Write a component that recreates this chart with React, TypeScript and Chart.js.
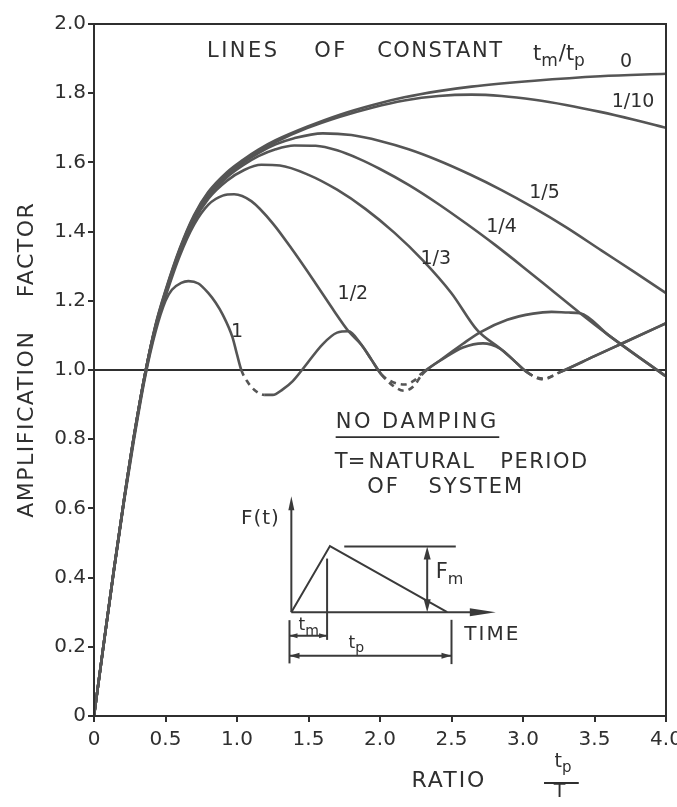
import { useEffect, useRef } from 'react';
import { Chart, registerables } from 'chart.js';

Chart.register(...registerables);

type Pt = [number, number];

// Amplification factor against ratio t_p/T, one curve per rise-time ratio t_m/t_p
const CURVE_0: Pt[] = [
  [0, 0], [0.07, 0.215], [0.14, 0.425], [0.21, 0.625], [0.28, 0.81], [0.36, 0.995], [0.43, 1.13],
  [0.5, 1.23], [0.6, 1.352], [0.7, 1.448], [0.8, 1.515], [0.93, 1.572], [1.04, 1.607],
  [1.15, 1.637], [1.27, 1.664], [1.49, 1.703], [1.72, 1.738], [1.95, 1.766], [2.17, 1.788],
  [2.41, 1.806], [2.64, 1.819], [3.08, 1.836], [3.54, 1.849], [4.0, 1.856],
];

const CURVE_1_10: Pt[] = [
  [0, 0], [0.07, 0.215], [0.14, 0.425], [0.21, 0.625], [0.28, 0.81], [0.36, 0.995], [0.43, 1.128],
  [0.5, 1.227], [0.6, 1.349], [0.7, 1.445], [0.8, 1.512], [0.93, 1.568], [1.04, 1.603],
  [1.15, 1.633], [1.27, 1.659], [1.49, 1.699], [1.72, 1.732], [1.95, 1.759], [2.17, 1.779],
  [2.41, 1.792], [2.64, 1.796], [2.85, 1.792], [3.08, 1.781], [3.3, 1.766], [3.54, 1.746],
  [3.77, 1.724], [4.0, 1.7],
];

const CURVE_1_5: Pt[] = [
  [0, 0], [0.07, 0.215], [0.14, 0.425], [0.21, 0.625], [0.28, 0.81], [0.36, 0.995], [0.43, 1.126],
  [0.5, 1.224], [0.6, 1.346], [0.7, 1.441], [0.8, 1.507], [0.93, 1.563], [1.04, 1.598],
  [1.15, 1.627], [1.27, 1.652], [1.4, 1.67], [1.6, 1.684], [1.8, 1.679], [2.0, 1.662],
  [2.2, 1.638], [2.4, 1.607], [2.63, 1.565], [2.85, 1.52], [3.07, 1.47], [3.3, 1.413],
  [3.55, 1.345], [3.78, 1.283], [4.0, 1.222],
];

const CURVE_1_4: Pt[] = [
  [0, 0], [0.07, 0.215], [0.14, 0.425], [0.21, 0.625], [0.28, 0.81], [0.36, 0.995], [0.43, 1.124],
  [0.5, 1.221], [0.6, 1.342], [0.7, 1.436], [0.8, 1.502], [0.93, 1.557], [1.04, 1.591],
  [1.15, 1.618], [1.27, 1.638], [1.4, 1.649], [1.55, 1.648], [1.7, 1.635], [1.85, 1.611],
  [2.0, 1.581], [2.2, 1.535], [2.4, 1.482], [2.6, 1.424], [2.8, 1.363], [3.0, 1.298],
  [3.2, 1.231], [3.4, 1.164], [3.6, 1.1], [3.8, 1.04], [4.0, 0.982],
];

const CURVE_1_3: Pt[] = [
  [0, 0], [0.07, 0.215], [0.14, 0.425], [0.21, 0.625], [0.28, 0.81], [0.36, 0.995], [0.43, 1.122],
  [0.5, 1.218], [0.6, 1.337], [0.7, 1.43], [0.8, 1.495], [0.93, 1.547], [1.05, 1.578],
  [1.17, 1.593], [1.3, 1.591], [1.5, 1.564], [1.7, 1.521], [1.9, 1.465], [2.1, 1.397],
  [2.3, 1.317], [2.5, 1.222], [2.68, 1.115], [2.84, 1.062], [2.93, 1.03], [3.03, 0.993],
  [3.14, 0.973], [3.26, 0.994], [3.5, 1.04], [3.7, 1.078], [4.0, 1.135],
];

const CURVE_1_2: Pt[] = [
  [0, 0], [0.07, 0.215], [0.14, 0.425], [0.21, 0.623], [0.28, 0.806], [0.36, 0.99], [0.43, 1.118],
  [0.5, 1.212], [0.6, 1.33], [0.7, 1.42], [0.8, 1.478], [0.9, 1.504], [0.98, 1.508],
  [1.1, 1.488], [1.25, 1.424], [1.4, 1.34], [1.55, 1.25], [1.68, 1.17], [1.78, 1.112],
  [1.87, 1.073], [1.94, 1.03], [2.01, 0.987], [2.09, 0.955], [2.17, 0.94], [2.24, 0.955],
  [2.29, 0.985], [2.44, 1.034], [2.58, 1.076], [2.7, 1.109], [2.89, 1.145], [3.07, 1.163],
  [3.2, 1.168], [3.32, 1.166], [3.4, 1.164], [3.6, 1.1], [3.8, 1.04], [4.0, 0.982],
];

const CURVE_1: Pt[] = [
  [0, 0], [0.07, 0.213], [0.14, 0.422], [0.21, 0.62], [0.28, 0.8], [0.36, 0.985], [0.43, 1.11],
  [0.5, 1.2], [0.545, 1.232], [0.61, 1.252], [0.66, 1.257], [0.73, 1.25], [0.8, 1.222],
  [0.85, 1.195], [0.9, 1.16], [0.968, 1.095], [1.0, 1.045], [1.03, 1.0], [1.07, 0.968],
  [1.12, 0.943], [1.19, 0.928], [1.25, 0.928], [1.32, 0.944], [1.39, 0.968], [1.46, 1.003],
  [1.6, 1.075], [1.7, 1.108], [1.78, 1.112], [1.87, 1.073], [1.94, 1.03], [2.01, 0.987],
  [2.09, 0.965], [2.17, 0.958], [2.24, 0.97], [2.29, 0.99], [2.44, 1.032], [2.58, 1.065],
  [2.72, 1.077], [2.84, 1.062], [2.93, 1.03], [3.03, 0.993], [3.14, 0.975], [3.26, 0.994],
  [3.5, 1.04], [3.7, 1.078], [4.0, 1.135],
];

// t_p/T spans where a curve dips below 1.0 and is drawn broken
const DASHED_1: Pt[] = [[1.03, 1.19], [2.01, 2.29], [3.03, 3.26]];
const DASHED_1_2: Pt[] = [[2.01, 2.29]];
const DASHED_1_3: Pt[] = [[3.03, 3.26]];

const X_TICKS = [0, 0.5, 1.0, 1.5, 2.0, 2.5, 3.0, 3.5, 4.0];
const X_LABELS = ['0', '0.5', '1.0', '1.5', '2.0', '2.5', '3.0', '3.5', '4.0'];
const Y_TICKS = [0, 0.2, 0.4, 0.6, 0.8, 1.0, 1.2, 1.4, 1.6, 1.8, 2.0];
const Y_LABELS = ['0', '0.2', '0.4', '0.6', '0.8', '1.0', '1.2', '1.4', '1.6', '1.8', '2.0'];

const SERIES = [
  { ratio: '0', points: CURVE_0, dashed: [] as Pt[] },
  { ratio: '1/10', points: CURVE_1_10, dashed: [] as Pt[] },
  { ratio: '1/5', points: CURVE_1_5, dashed: [] as Pt[] },
  { ratio: '1/4', points: CURVE_1_4, dashed: [] as Pt[] },
  { ratio: '1/3', points: CURVE_1_3, dashed: DASHED_1_3 },
  { ratio: '1/2', points: CURVE_1_2, dashed: DASHED_1_2 },
  { ratio: '1', points: CURVE_1, dashed: DASHED_1 },
];

// curve tags placed in data units (t_p/T, amplification)
const CURVE_TAGS = [
  { text: '0', x: 3.72, y: 1.89 },
  { text: '1/10', x: 3.77, y: 1.775 },
  { text: '1/5', x: 3.15, y: 1.51 },
  { text: '1/4', x: 2.85, y: 1.414 },
  { text: '1/3', x: 2.39, y: 1.32 },
  { text: '1/2', x: 1.81, y: 1.22 },
  { text: '1', x: 1.0, y: 1.11 },
];

const INK = '#2f2f2f';
const CURVE_INK = '#555555';
const FONT = '"DejaVu Sans", sans-serif';

type Part = { t: string; sub?: boolean };

function richText(ctx: CanvasRenderingContext2D, parts: Part[], x: number, baseline: number, size: number, subSize: number) {
  let cx = x;
  ctx.textAlign = 'left';
  ctx.textBaseline = 'alphabetic';
  for (const p of parts) {
    const s = p.sub ? subSize : size;
    ctx.font = `${s}px ${FONT}`;
    const yy = p.sub ? baseline + size * 0.28 : baseline;
    ctx.fillText(p.t, cx, yy);
    cx += ctx.measureText(p.t).width + (p.sub ? 1 : 0);
  }
  return cx;
}

function arrowHead(ctx: CanvasRenderingContext2D, tx: number, ty: number, dx: number, dy: number, len: number, half: number) {
  const l = Math.hypot(dx, dy);
  const ux = dx / l;
  const uy = dy / l;
  const bx = tx - ux * len;
  const by = ty - uy * len;
  ctx.beginPath();
  ctx.moveTo(tx, ty);
  ctx.lineTo(bx - uy * half, by + ux * half);
  ctx.lineTo(bx + uy * half, by - ux * half);
  ctx.closePath();
  ctx.fill();
}

function line(ctx: CanvasRenderingContext2D, x1: number, y1: number, x2: number, y2: number) {
  ctx.beginPath();
  ctx.moveTo(x1, y1);
  ctx.lineTo(x2, y2);
  ctx.stroke();
}

const paperPlugin = {
  id: 'paper',
  beforeDatasetsDraw(chart: any) {
    const { ctx, chartArea: ca, scales } = chart;
    const y1 = scales.y.getPixelForValue(1.0);
    ctx.save();
    ctx.strokeStyle = INK;
    ctx.lineWidth = 2;
    line(ctx, ca.left, y1, ca.right, y1);
    ctx.restore();
  },
  afterDraw(chart: any) {
    const { ctx, chartArea: ca, scales } = chart;
    const X = (v: number) => scales.x.getPixelForValue(v);
    const Y = (v: number) => scales.y.getPixelForValue(v);
    ctx.save();

    // box round the plotting area
    ctx.strokeStyle = INK;
    ctx.lineWidth = 2;
    ctx.strokeRect(ca.left, ca.top, ca.right - ca.left, ca.bottom - ca.top);

    ctx.fillStyle = INK;

    // heading
    ctx.textBaseline = 'middle';
    ctx.textAlign = 'left';
    ctx.font = `21px ${FONT}`;
    (ctx as any).letterSpacing = '2.5px';
    ctx.fillText('LINES', X(0.79), Y(1.92));
    ctx.fillText('OF', X(1.54), Y(1.92));
    (ctx as any).letterSpacing = '1.5px';
    ctx.fillText('CONSTANT', X(1.98), Y(1.92));
    (ctx as any).letterSpacing = '0px';
    richText(ctx, [{ t: 't' }, { t: 'm', sub: true }, { t: '/' }, { t: 't' }, { t: 'p', sub: true }],
      X(3.07), Y(1.92) + 8, 21, 17);

    // curve tags
    ctx.font = `19px ${FONT}`;
    ctx.textAlign = 'center';
    ctx.textBaseline = 'middle';
    for (const tag of CURVE_TAGS) ctx.fillText(tag.text, X(tag.x), Y(tag.y));

    // notes
    ctx.textAlign = 'left';
    ctx.font = `21px ${FONT}`;
    (ctx as any).letterSpacing = '2.5px';
    ctx.fillText('NO DAMPING', X(1.69), Y(0.847));
    (ctx as any).letterSpacing = '0px';
    ctx.lineWidth = 1.8;
    line(ctx, X(1.69), Y(0.806), X(2.834), Y(0.806));
    ctx.fillText('T=', X(1.684), Y(0.733));
    (ctx as any).letterSpacing = '1.5px';
    ctx.fillText('NATURAL', X(1.919), Y(0.733));
    ctx.fillText('PERIOD', X(2.841), Y(0.733));
    (ctx as any).letterSpacing = '2px';
    ctx.fillText('OF', X(1.91), Y(0.661));
    ctx.fillText('SYSTEM', X(2.339), Y(0.661));
    (ctx as any).letterSpacing = '0px';

    // load pulse sketch
    ctx.strokeStyle = '#3a3a3a';
    ctx.fillStyle = '#3a3a3a';
    ctx.lineWidth = 2;
    const ox = X(1.38);
    const base = Y(0.30);
    line(ctx, ox, base, ox, Y(0.61));
    arrowHead(ctx, ox, Y(0.635), 0, -1, 14, 3);
    line(ctx, ox, base, X(2.7), base);
    arrowHead(ctx, X(2.81), base, 1, 0, 26, 4);
    ctx.beginPath();
    ctx.moveTo(ox, base);
    ctx.lineTo(X(1.65), Y(0.491));
    ctx.lineTo(X(2.47), base);
    ctx.stroke();
    line(ctx, X(1.63), Y(0.455), X(1.63), Y(0.22));
    line(ctx, X(1.75), Y(0.49), X(2.53), Y(0.49));
    // F_m dimension
    line(ctx, X(2.33), Y(0.46), X(2.33), Y(0.33));
    arrowHead(ctx, X(2.33), Y(0.49), 0, -1, 13, 3.5);
    arrowHead(ctx, X(2.33), base, 0, 1, 13, 3.5);
    // t_m and t_p dimensions
    line(ctx, X(1.367), Y(0.277), X(1.367), Y(0.152));
    line(ctx, X(2.5), Y(0.278), X(2.5), Y(0.15));
    line(ctx, X(1.367), Y(0.232), X(1.63), Y(0.232));
    arrowHead(ctx, X(1.63), Y(0.232), 1, 0, 8, 2.5);
    arrowHead(ctx, X(1.367), Y(0.232), -1, 0, 8, 2.5);
    line(ctx, X(1.367), Y(0.174), X(2.5), Y(0.174));
    arrowHead(ctx, X(2.5), Y(0.174), 1, 0, 10, 3);
    arrowHead(ctx, X(1.367), Y(0.174), -1, 0, 10, 3);

    ctx.fillStyle = INK;
    ctx.textBaseline = 'middle';
    ctx.textAlign = 'right';
    ctx.font = `20px ${FONT}`;
    (ctx as any).letterSpacing = '1px';
    ctx.fillText('F(t)', X(1.3), Y(0.571));
    ctx.textAlign = 'left';
    (ctx as any).letterSpacing = '2px';
    ctx.fillText('TIME', X(2.59), Y(0.236));
    (ctx as any).letterSpacing = '0px';
    richText(ctx, [{ t: 'F' }, { t: 'm', sub: true }], X(2.39), Y(0.42) + 7, 21, 16);
    richText(ctx, [{ t: 't' }, { t: 'm', sub: true }], X(1.43), Y(0.262) + 5, 17, 14);
    richText(ctx, [{ t: 't' }, { t: 'p', sub: true }], X(1.78), Y(0.212) + 5, 17, 14);

    // axis titles
    ctx.font = `22px ${FONT}`;
    ctx.textAlign = 'left';
    ctx.textBaseline = 'middle';
    (ctx as any).letterSpacing = '1.5px';
    ctx.save();
    ctx.translate(27, Y(0.573));
    ctx.rotate(-Math.PI / 2);
    ctx.fillText('AMPLIFICATION', 0, 0);
    ctx.restore();
    ctx.save();
    ctx.translate(27, Y(1.21));
    ctx.rotate(-Math.PI / 2);
    ctx.fillText('FACTOR', 0, 0);
    ctx.restore();

    (ctx as any).letterSpacing = '2px';
    ctx.fillText('RATIO', X(2.22), 781);
    (ctx as any).letterSpacing = '0px';
    const fx = X(3.27);
    richText(ctx, [{ t: 't' }, { t: 'p', sub: true }], fx - 7, 767, 19, 15);
    ctx.lineWidth = 1.8;
    ctx.strokeStyle = INK;
    line(ctx, X(3.147), 783, X(3.39), 783);
    ctx.font = `19px ${FONT}`;
    ctx.textAlign = 'center';
    ctx.fillText('T', fx - 2, 797);

    ctx.restore();
  },
};

export default function App() {
  const canvasRef = useRef<HTMLCanvasElement | null>(null);

  useEffect(() => {
    const canvas = canvasRef.current;
    if (!canvas) return;

    const inRange = (a: number, b: number, spans: Pt[]) =>
      spans.some(([lo, hi]) => a >= lo - 1e-9 && b <= hi + 1e-9);

    const datasets = SERIES.map((s) => ({
      label: s.ratio,
      data: s.points.map(([x, y]) => ({ x, y })),
      borderColor: CURVE_INK,
      borderWidth: 2.6,
      pointRadius: 0,
      fill: false,
      cubicInterpolationMode: 'monotone' as const,
      segment: {
        borderDash: (c: any) => (inRange(c.p0.parsed.x, c.p1.parsed.x, s.dashed) ? [6, 5] : undefined),
      },
    }));

    const tickFont = { family: FONT, size: 20 };

    const chart = new Chart(canvas, {
      type: 'line',
      data: { datasets },
      plugins: [paperPlugin],
      options: {
        responsive: false,
        animation: false,
        layout: { padding: { top: 24, right: 11, left: 0, bottom: 0 } },
        plugins: { legend: { display: false }, tooltip: { enabled: false } },
        scales: {
          x: {
            type: 'linear',
            min: 0,
            max: 4,
            afterBuildTicks: (scale: any) => {
              scale.ticks = X_TICKS.map((v) => ({ value: v }));
            },
            afterFit: (scale: any) => {
              scale.height = 91;
              scale.paddingLeft = 0;
              scale.paddingRight = 0;
            },
            ticks: {
              autoSkip: false,
              maxRotation: 0,
              padding: 6,
              color: INK,
              font: tickFont,
              callback: (_v: any, i: number) => X_LABELS[i],
            },
            grid: { display: true, drawOnChartArea: false, drawTicks: true, tickLength: 6, color: INK, lineWidth: 2 },
            border: { display: false },
          },
          y: {
            type: 'linear',
            min: 0,
            max: 2,
            afterBuildTicks: (scale: any) => {
              scale.ticks = Y_TICKS.map((v) => ({ value: v }));
            },
            afterFit: (scale: any) => {
              scale.width = 94;
              scale.paddingTop = 0;
              scale.paddingBottom = 0;
            },
            ticks: {
              autoSkip: false,
              padding: 2,
              color: INK,
              font: tickFont,
              callback: (_v: any, i: number) => Y_LABELS[i],
            },
            grid: { display: true, drawOnChartArea: false, drawTicks: true, tickLength: 6, color: INK, lineWidth: 2 },
            border: { display: false },
          },
        },
      },
    } as any);

    return () => chart.destroy();
  }, []);

  return (
    <div style={{ position: 'fixed', left: 0, top: 0, width: 677, height: 807, background: '#ffffff' }}>
      <canvas ref={canvasRef} width={677} height={807} style={{ display: 'block' }} />
    </div>
  );
}
